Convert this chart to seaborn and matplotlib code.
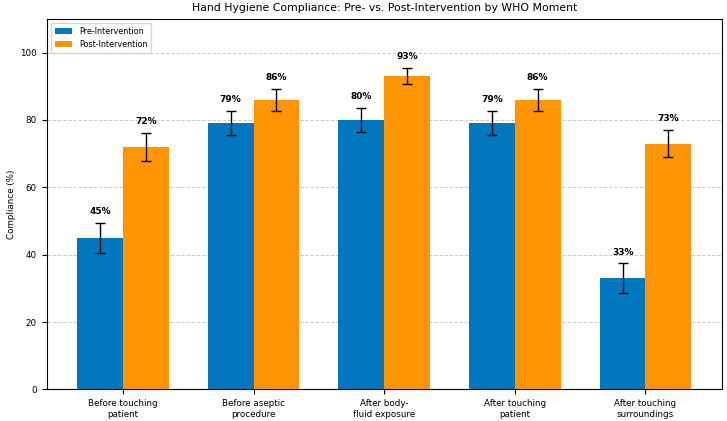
import pandas as pd
import matplotlib
matplotlib.use("Agg")
import matplotlib.pyplot as plt
import seaborn as sns

# Data
moments = ["Before touching\npatient", "Before aseptic\nprocedure", "After body-\nfluid exposure",
           "After touching\npatient", "After touching\nsurroundings"]
pre_values = [45, 79, 80, 79, 33]
post_values = [72, 86, 93, 86, 73]
pre_err = [4.5, 3.6, 3.7, 3.6, 4.4]
post_err = [4.2, 3.2, 2.4, 3.2, 4.1]
groups = ["Pre-Intervention", "Post-Intervention"]
colors = ["#0077bf", "#ff9500"]

df = pd.DataFrame({
    "moment": moments * 2,
    "group": [groups[0]] * len(moments) + [groups[1]] * len(moments),
    "value": pre_values + post_values,
    "err": pre_err + post_err,
})

sns.set_style("ticks", {"text.color": "black", "axes.labelcolor": "black",
                        "xtick.color": "black", "ytick.color": "black",
                        "axes.edgecolor": "black"})
plt.rcParams["font.family"] = ["DejaVu Sans"]

fig, ax = plt.subplots(figsize=(7.27, 4.21), dpi=100)
sns.barplot(data=df, x="moment", y="value", hue="group", palette=colors,
            width=0.7, gap=0, errorbar=None, saturation=1, linewidth=0,
            ax=ax, zorder=2)

# error bars and labels, placed on the patches seaborn drew
bars = [p for p in ax.patches if p.get_height() > 0]
for bar, val, err in zip(bars, df["value"], df["err"]):
    cx = bar.get_x() + bar.get_width() / 2
    ax.errorbar(cx, val, yerr=err, fmt="none", ecolor="black", elinewidth=1,
                capsize=3.5, capthick=1, zorder=3)
    ax.text(cx, val + err + 2, f"{val}%", ha="center", va="bottom",
            fontsize=6.5, fontweight="bold")

ax.set_ylim(0, 110)
ax.set_xlabel("")
ax.set_ylabel("Compliance (%)", fontsize=6.3, labelpad=3)
ax.set_title("Hand Hygiene Compliance: Pre- vs. Post-Intervention by WHO Moment", fontsize=7.8)
ax.tick_params(labelsize=6.3)
ax.yaxis.grid(True, linestyle="--", color="#cccccc", linewidth=0.7, zorder=0)
ax.set_axisbelow(True)
for s in ax.spines.values():
    s.set_visible(True)
    s.set_linewidth(0.8)
ax.legend(loc="upper left", fontsize=5.8, frameon=True, title=None,
          handlelength=2.2, borderpad=0.5)

fig.subplots_adjust(left=0.064, right=0.993, top=0.955, bottom=0.075)
fig.savefig("out.png", dpi=100)
